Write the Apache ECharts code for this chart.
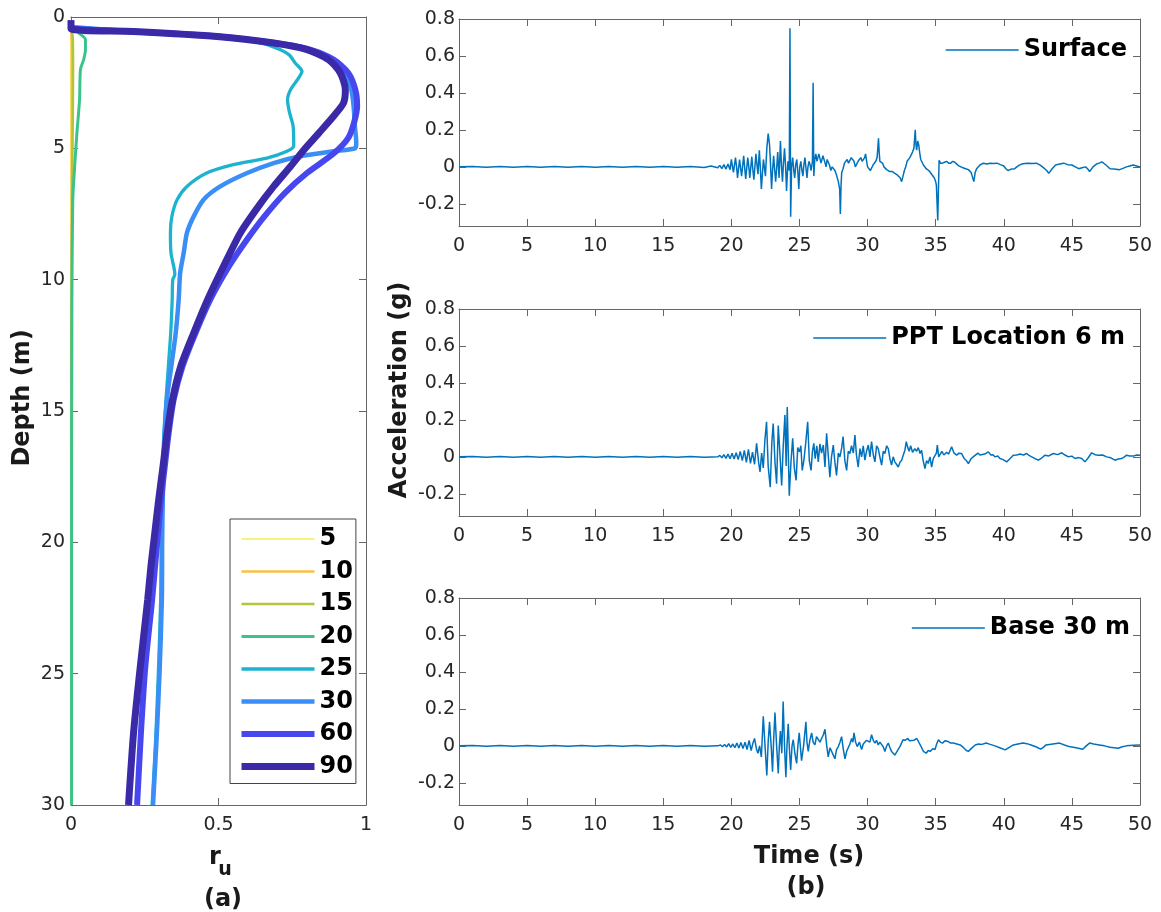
<!DOCTYPE html>
<html><head><meta charset="utf-8">
<script src="https://cdn.jsdelivr.net/npm/echarts@6/dist/echarts.min.js"></script>
<style>html,body{margin:0;padding:0;background:#fff}#c{width:1161px;height:912px}</style>
</head><body><div id="c"></div>
<script>
const FONT = 'DejaVu Sans';
// ---- tick labels ----
const depthTicks = [0, 5, 10, 15, 20, 25, 30];
const ruTicks = [0, 0.5, 1];
const timeTicks = [0, 5, 10, 15, 20, 25, 30, 35, 40, 45, 50];
const accTicks = [-0.2, 0, 0.2, 0.4, 0.6, 0.8];

// ---- panel (a): pore pressure ratio profiles [ru, depth] ----
const ruNames = ['5', '10', '15', '20', '25', '30', '60', '90'];
const ru5 = [[0, 0.35], [0.001, 10], [0.001, 30]];
const ru10 = [[0, 0.35], [0.003, 1], [0.002, 10], [0.001, 30]];
const ru15 = [[0, 0.35], [0.006, 0.8], [0.007, 2], [0.006, 4], [0.004, 6], [0.003, 9], [0.002, 15], [0.001, 30]];
const ru20 = [[0, 0.35], [0.026, 0.61], [0.049, 0.86], [0.049, 1.24], [0.043, 1.62], [0.032, 2.0], [0.029, 3.15], [0.02, 4.42], [0.011, 5.94], [0.006, 6.95], [0.003, 10.76], [0.002, 20], [0.002, 30]];
const ru25 = [[0, 0.38], [0.21, 0.55], [0.49, 0.75], [0.65, 1.0], [0.71, 1.25], [0.74, 1.45], [0.76, 1.75], [0.783, 2.07], [0.77, 2.35], [0.745, 2.75], [0.734, 3.15], [0.74, 3.6], [0.753, 4.16], [0.755, 4.9], [0.732, 5.11], [0.664, 5.37], [0.55, 5.62], [0.46, 5.94], [0.393, 6.45], [0.36, 6.95], [0.342, 7.59], [0.337, 8.22], [0.339, 8.98], [0.35, 9.6], [0.352, 9.8], [0.345, 10.0], [0.343, 10.76], [0.338, 12.03], [0.33, 13.3], [0.322, 14.57], [0.314, 16], [0.309, 18], [0.306, 20], [0.304, 22.18], [0.296, 25], [0.287, 27.5], [0.275, 30]];
const ru30 = [[0, 0.38], [0.21, 0.55], [0.5, 0.74], [0.69, 0.99], [0.8, 1.24], [0.88, 1.62], [0.928, 2.13], [0.95, 2.77], [0.958, 3.4], [0.962, 4.1], [0.967, 4.8], [0.964, 4.99], [0.89, 5.11], [0.777, 5.3], [0.687, 5.56], [0.597, 5.94], [0.506, 6.45], [0.45, 6.95], [0.416, 7.59], [0.393, 8.22], [0.382, 8.98], [0.37, 9.75], [0.365, 10.76], [0.355, 12.03], [0.34, 13.3], [0.325, 14.57], [0.318, 15.84], [0.314, 17.1], [0.311, 18.4], [0.309, 20], [0.308, 22.18], [0.3, 25], [0.29, 27.5], [0.278, 30]];
const ru60 = [[0, 0.12], [0, 0.4], [0.21, 0.55], [0.5, 0.74], [0.69, 0.99], [0.81, 1.24], [0.89, 1.62], [0.94, 2.13], [0.964, 2.77], [0.97, 3.4], [0.96, 4.0], [0.94, 4.6], [0.89, 5.2], [0.8, 5.94], [0.725, 6.7], [0.655, 7.6], [0.595, 8.5], [0.535, 9.5], [0.472, 10.76], [0.422, 12.03], [0.378, 13.3], [0.348, 14.57], [0.331, 15.84], [0.318, 17.1], [0.305, 18.4], [0.295, 19.65], [0.285, 20.9], [0.275, 22.18], [0.252, 24.72], [0.237, 27.26], [0.224, 30]];
const ru90 = [[0, 0.12], [0, 0.45], [0.212, 0.55], [0.495, 0.74], [0.687, 0.99], [0.8, 1.24], [0.873, 1.62], [0.913, 2.13], [0.93, 2.77], [0.924, 3.27], [0.89, 3.78], [0.84, 4.42], [0.79, 5.05], [0.744, 5.69], [0.687, 6.45], [0.636, 7.2], [0.574, 8.22], [0.517, 9.49], [0.463, 10.76], [0.416, 12.03], [0.372, 13.3], [0.344, 14.57], [0.326, 15.84], [0.312, 17.1], [0.297, 18.4], [0.284, 19.65], [0.271, 20.9], [0.26, 22.18], [0.235, 24.72], [0.212, 27.26], [0.195, 30]];
const ruSeriesData = [ru5, ru10, ru15, ru20, ru25, ru30, ru60, ru90];

// ---- panel (b): acceleration time histories [time s, acc g] ----
const surface = [[0,0],[1,0.002],[2,-0.002],[3,0.002],[4,-0.002],[5,0.002],[6,-0.002],[7,0.002],[8,-0.002],[9,0.002],[10,-0.002],[11,0.002],[12,-0.002],[13,0.002],[14,-0.002],[15,0.002],[16,-0.002],[17,0.002],[18,-0.003],[18.5,0.005],[19.0,-0.005],[19.15,0.008],[19.3,-0.01],[19.45,0.012],[19.6,-0.012],[19.75,0.015],[19.9,-0.015],[20.0,0.04],[20.1,-0.01],[20.15,-0.03],[20.3,0.05],[20.38,0.0],[20.45,-0.06],[20.6,0.04],[20.68,-0.01],[20.75,-0.05],[20.9,0.06],[20.97,0.0],[21.05,-0.065],[21.2,0.05],[21.28,0.0],[21.35,-0.06],[21.5,0.055],[21.58,-0.02],[21.65,-0.07],[21.8,0.07],[21.88,0.01],[21.95,-0.04],[22.05,0.09],[22.12,0.0],[22.2,-0.12],[22.35,0.04],[22.42,0.0],[22.5,-0.05],[22.6,0.1],[22.7,0.18],[22.8,0.12],[22.85,0.05],[22.95,-0.12],[23.02,-0.02],[23.1,0.06],[23.18,-0.02],[23.25,-0.08],[23.35,0.02],[23.4,0.08],[23.5,-0.06],[23.6,0.14],[23.68,0.0],[23.75,-0.08],[23.82,0.02],[23.9,0.1],[23.98,0.0],[24.05,-0.13],[24.15,0.03],[24.25,-0.02],[24.3,0.75],[24.35,-0.27],[24.42,0.0],[24.5,0.05],[24.58,-0.02],[24.65,-0.06],[24.72,0.01],[24.8,0.04],[24.88,-0.03],[24.95,-0.12],[25.02,0.0],[25.1,0.03],[25.18,-0.02],[25.25,-0.05],[25.32,0.01],[25.4,0.05],[25.48,-0.01],[25.55,-0.06],[25.62,0.0],[25.7,0.03],[25.78,0.01],[25.85,-0.02],[25.95,0.03],[26.0,0.455],[26.05,-0.05],[26.12,0.04],[26.2,0.07],[26.28,0.03],[26.35,0.02],[26.42,0.07],[26.5,0.06],[26.58,0.02],[26.65,0.01],[26.72,0.06],[26.8,0.055],[26.88,0.02],[26.95,0.0],[27.03,0.04],[27.1,0.03],[27.2,0.01],[27.3,-0.02],[27.4,0.0],[27.5,-0.01],[27.6,-0.02],[27.7,-0.04],[27.78,-0.03],[27.85,-0.08],[27.95,-0.12],[28.0,-0.255],[28.05,-0.1],[28.1,-0.03],[28.2,-0.01],[28.3,0.02],[28.4,0.01],[28.5,0.04],[28.6,0.02],[28.7,0.03],[28.8,0.05],[28.9,0.06],[29.0,0.03],[29.1,0.0],[29.2,0.01],[29.3,0.03],[29.4,0.02],[29.5,0.05],[29.6,0.03],[29.7,0.04],[29.78,0.05],[29.85,0.07],[29.93,0.03],[30.0,0.0],[30.1,-0.01],[30.2,-0.02],[30.3,-0.01],[30.4,0.01],[30.5,0.02],[30.6,0.03],[30.7,0.05],[30.8,0.155],[30.85,0.08],[30.9,0.03],[31.0,0.04],[31.1,0.02],[31.2,0.0],[31.3,-0.01],[31.4,-0.015],[31.5,-0.02],[31.6,-0.025],[31.7,-0.03],[31.8,-0.025],[31.9,-0.03],[32.0,-0.035],[32.1,-0.04],[32.2,-0.045],[32.3,-0.05],[32.4,-0.06],[32.5,-0.08],[32.6,-0.05],[32.7,-0.02],[32.8,0.0],[32.9,0.03],[33.0,0.04],[33.1,0.05],[33.2,0.06],[33.3,0.08],[33.4,0.1],[33.5,0.2],[33.55,0.12],[33.6,0.09],[33.68,0.14],[33.75,0.12],[33.82,0.08],[33.9,0.04],[34.0,0.03],[34.1,0.01],[34.2,0.0],[34.3,-0.01],[34.4,-0.015],[34.5,-0.02],[34.6,-0.03],[34.7,-0.04],[34.8,-0.05],[34.9,-0.06],[35.0,-0.08],[35.05,-0.1],[35.15,-0.29],[35.25,0.035],[35.35,0.02],[35.5,0.02],[35.65,0.025],[35.8,0.03],[35.95,0.02],[36.1,0.02],[36.25,0.03],[36.4,0.025],[36.55,0.015],[36.7,0.005],[36.85,0.0],[37.0,-0.005],[37.2,-0.01],[37.4,-0.015],[37.6,-0.03],[37.8,-0.08],[37.9,-0.03],[38.0,-0.01],[38.25,0.01],[38.5,0.02],[38.75,0.015],[39.0,0.02],[39.25,0.018],[39.5,0.02],[39.75,0.012],[40.0,0.005],[40.15,-0.01],[40.3,-0.02],[40.55,-0.012],[40.8,-0.01],[41.05,0.005],[41.3,0.015],[41.55,0.018],[41.8,0.02],[42.1,0.018],[42.4,0.02],[42.7,0.008],[43.0,-0.01],[43.15,-0.02],[43.3,-0.035],[43.55,-0.01],[43.8,0.01],[44.1,0.015],[44.4,0.02],[44.7,0.012],[45.0,0.01],[45.25,0.0],[45.5,-0.01],[45.75,-0.005],[46.0,0],[46.15,-0.01],[46.3,-0.025],[46.55,0.0],[46.8,0.015],[47.0,0.02],[47.2,0.027],[47.5,0.01],[47.8,-0.01],[48.1,-0.012],[48.5,-0.015],[48.75,-0.008],[49.0,0.0],[49.25,0.005],[49.5,0.01],[49.75,0.005],[50.0,0.0]];
const ppt6 = [[0,0],[1,0.002],[2,-0.002],[3,0.002],[4,-0.002],[5,0.002],[6,-0.002],[7,0.002],[8,-0.002],[9,0.002],[10,-0.002],[11,0.002],[12,-0.002],[13,0.002],[14,-0.002],[15,0.002],[16,-0.002],[17,0.002],[18,-0.002],[19.0,0],[19.15,0.008],[19.3,-0.005],[19.45,0.012],[19.6,-0.008],[19.75,0.015],[19.9,-0.01],[20.05,0.02],[20.2,-0.012],[20.35,0.022],[20.5,-0.015],[20.65,0.03],[20.8,-0.02],[20.95,0.035],[21.1,-0.03],[21.25,0.04],[21.4,-0.035],[21.55,0.025],[21.7,-0.04],[21.85,0.073],[22.0,-0.03],[22.1,-0.082],[22.22,0.02],[22.34,-0.06],[22.46,0.09],[22.58,0.19],[22.7,-0.05],[22.85,-0.164],[22.97,0.08],[23.07,0.18],[23.2,-0.03],[23.32,-0.145],[23.44,0.17],[23.56,0.02],[23.69,-0.155],[23.8,0.05],[23.93,0.227],[24.02,-0.05],[24.1,0.27],[24.25,-0.21],[24.38,-0.02],[24.5,0.1],[24.62,-0.06],[24.75,-0.127],[24.87,0.05],[25.0,0.027],[25.1,0.06],[25.2,-0.073],[25.32,-0.02],[25.45,0.07],[25.6,0.19],[25.72,-0.02],[25.85,-0.073],[25.95,0.03],[26.05,0.073],[26.15,-0.01],[26.27,0.06],[26.38,-0.027],[26.5,0.07],[26.62,0.02],[26.75,0.064],[26.87,-0.055],[26.99,0.127],[27.1,0.02],[27.23,-0.11],[27.35,0.0],[27.48,0.064],[27.6,-0.03],[27.72,-0.1],[27.85,0.02],[27.97,0.0],[28.1,0.05],[28.2,0.11],[28.33,-0.02],[28.46,-0.073],[28.58,0.03],[28.7,0.018],[28.82,0.06],[28.95,0.02],[29.07,0.118],[29.18,0.01],[29.31,-0.055],[29.44,0.045],[29.56,0.0],[29.68,0.06],[29.8,-0.018],[29.92,0.03],[30.05,0.064],[30.17,0.0],[30.29,0.082],[30.42,0.01],[30.54,-0.027],[30.66,0.06],[30.78,0.045],[30.9,0.0],[31.03,-0.045],[31.15,0.03],[31.27,0.018],[31.4,0.06],[31.52,0.045],[31.64,-0.01],[31.76,-0.045],[31.88,0.0],[32.0,-0.027],[32.12,-0.04],[32.25,-0.055],[32.37,-0.03],[32.5,-0.018],[32.62,0.01],[32.74,0.036],[32.84,0.082],[32.95,0.05],[33.05,0.03],[33.16,0.06],[33.3,0.025],[33.47,0.045],[33.6,0.03],[33.72,0.05],[33.85,0.018],[33.96,0.036],[34.08,-0.02],[34.21,-0.064],[34.33,-0.02],[34.45,-0.036],[34.58,0.0],[34.7,-0.055],[34.82,-0.01],[34.94,-0.018],[35.05,0.02],[35.12,0.064],[35.22,0.0],[35.31,0.01],[35.45,0.03],[35.6,0.01],[35.8,0.025],[35.95,0.015],[36.17,0.055],[36.35,0.02],[36.54,0.009],[36.7,0.02],[36.9,0.018],[37.1,-0.01],[37.25,-0.02],[37.4,-0.036],[37.6,-0.01],[37.75,0.0],[37.89,0.009],[38.1,0.02],[38.25,0.01],[38.37,0.018],[38.6,0.015],[38.86,0.027],[39.05,0.01],[39.2,0.012],[39.35,0.0],[39.55,0.005],[39.72,-0.009],[39.95,-0.015],[40.21,-0.027],[40.45,-0.01],[40.7,0.009],[40.95,0.01],[41.19,0.015],[41.45,0.01],[41.68,0.018],[41.85,0.008],[42.05,0.0],[42.3,-0.01],[42.54,-0.018],[42.8,-0.005],[43.03,0.009],[43.3,0.005],[43.64,0.018],[43.95,0.012],[44.25,0.022],[44.5,0.01],[44.74,0.0],[45.0,0.004],[45.23,-0.009],[45.5,-0.004],[45.72,-0.009],[45.96,-0.027],[46.2,-0.005],[46.45,0.022],[46.7,0.012],[46.94,0.009],[47.25,0.01],[47.55,0],[47.85,-0.005],[48.16,-0.018],[48.4,-0.012],[48.65,-0.009],[48.85,0.0],[49.02,0.009],[49.25,0.005],[49.51,0.004],[49.75,0.01],[50,0.009]];
const base30 = [[0,0],[1,0.002],[2,-0.002],[3,0.002],[4,-0.002],[5,0.002],[6,-0.002],[7,0.002],[8,-0.002],[9,0.002],[10,-0.002],[11,0.002],[12,-0.002],[13,0.002],[14,-0.002],[15,0.002],[16,-0.002],[17,0.002],[18,-0.002],[19.0,0],[19.2,0.005],[19.35,-0.005],[19.5,0.008],[19.65,-0.006],[19.8,0.012],[19.95,-0.008],[20.1,0.01],[20.25,-0.01],[20.4,0.015],[20.55,-0.012],[20.7,0.018],[20.85,-0.015],[21.0,0.02],[21.15,-0.02],[21.3,0.03],[21.45,-0.025],[21.6,0.02],[21.7,0.04],[21.85,-0.02],[21.95,-0.04],[22.07,0.0],[22.2,-0.06],[22.34,0.16],[22.47,0.0],[22.6,-0.16],[22.7,0.02],[22.8,0.13],[22.92,0.0],[23.02,-0.14],[23.1,0.03],[23.2,0.18],[23.32,0.0],[23.44,-0.15],[23.52,0.0],[23.6,0.08],[23.7,-0.04],[23.8,0.24],[23.9,0.0],[24.0,-0.17],[24.08,0.0],[24.17,0.12],[24.26,-0.02],[24.35,-0.13],[24.45,0.0],[24.54,0.033],[24.66,-0.04],[24.79,-0.095],[24.88,0.0],[24.98,0.07],[25.06,0.0],[25.15,-0.08],[25.3,0.0],[25.47,0.13],[25.55,0.02],[25.64,-0.03],[25.76,0.03],[25.89,0.07],[26.0,0.02],[26.13,0.005],[26.25,0.05],[26.38,0.06],[26.5,0.02],[26.62,0.015],[26.75,0.06],[26.87,0.09],[27.0,0.0],[27.11,-0.06],[27.24,-0.01],[27.36,-0.02],[27.48,-0.05],[27.6,-0.07],[27.72,-0.02],[27.85,-0.004],[27.97,0.02],[28.09,0.05],[28.22,-0.02],[28.34,-0.07],[28.46,-0.03],[28.58,-0.02],[28.7,0.01],[28.83,0.04],[28.92,0.02],[29.0,0.07],[29.12,0.02],[29.24,-0.004],[29.4,0.02],[29.56,-0.02],[29.68,0.01],[29.8,0.005],[29.92,0.03],[30.05,0.033],[30.17,0.02],[30.29,0.06],[30.42,0.03],[30.54,0.015],[30.66,0.03],[30.78,0.005],[30.9,0.02],[31.03,0.024],[31.15,-0.005],[31.27,-0.03],[31.4,0.0],[31.52,0.015],[31.64,-0.01],[31.76,-0.03],[31.88,-0.02],[32.0,-0.05],[32.12,-0.035],[32.25,-0.03],[32.4,0.0],[32.6,0.033],[32.75,0.03],[32.95,0.04],[33.07,0.028],[33.2,0.033],[33.4,0.03],[33.6,0.04],[33.72,0.025],[33.85,0.02],[33.97,-0.01],[34.1,-0.03],[34.2,-0.025],[34.3,-0.04],[34.45,-0.025],[34.6,-0.03],[34.78,-0.015],[34.95,-0.02],[35.07,0.01],[35.2,0.033],[35.35,0.02],[35.5,0.015],[35.7,0.028],[35.9,0.024],[36.1,0.015],[36.3,0.015],[36.55,0.01],[36.8,0.005],[37.05,-0.01],[37.25,-0.025],[37.4,-0.03],[37.6,-0.015],[37.9,0.005],[38.15,0.01],[38.4,0.008],[38.7,0.015],[39.0,0.008],[39.35,0],[39.7,-0.01],[40.1,-0.022],[40.4,-0.008],[40.7,0.005],[41.05,0.01],[41.4,0.015],[41.7,0.012],[42.0,0.005],[42.35,-0.005],[42.7,-0.018],[42.9,-0.008],[43.1,0.005],[43.6,0.01],[44.1,0.015],[44.45,0.005],[44.8,-0.004],[45.3,-0.01],[45.8,-0.018],[46.05,0.0],[46.3,0.015],[46.6,0.01],[47.0,0.005],[47.4,0.0],[47.8,-0.007],[48.1,-0.01],[48.4,-0.013],[48.7,-0.005],[49.0,0],[49.5,0.003],[50,0.004]];
const accNames = ['Surface', 'PPT Location 6 m', 'Base 30 m'];
const accSeriesData = [surface, ppt6, base30];

// ---- styles ----
const ruColors = ['#f9f27c', '#fbbf45', '#b3c33a', '#3cc38a', '#1db3cf', '#3a8ef5', '#4747f0', '#3a2aa8'];
const ruWidths = [2, 2.5, 2.5, 3, 3.3, 4.5, 6, 7];
const accColor = '#0072BD';
const axisColor = '#666';
const labelColor = '#262626';

const grids = [
  { left: 71, top: 17, width: 295, height: 788 },
  { left: 459, top: 19, width: 681, height: 207 },
  { left: 459, top: 309, width: 681, height: 207 },
  { left: 459, top: 598, width: 681, height: 207 }
];

function baseAxis(gi, pos, showLabel, margin) {
  return {
    type: 'value', gridIndex: gi, position: pos,
    axisLine: { show: true, onZero: false, lineStyle: { color: axisColor, width: 1 } },
    axisTick: { show: true, inside: true, length: 7, lineStyle: { color: axisColor, width: 1 } },
    splitLine: { show: false },
    axisLabel: { show: showLabel, color: labelColor, fontSize: 19, fontFamily: FONT, margin: margin }
  };
}
const xAxes = [], yAxes = [];
// left panel
xAxes.push(Object.assign(baseAxis(0, 'bottom', true, 11), { min: 0, max: 1, interval: 0.5 }));
xAxes.push(Object.assign(baseAxis(0, 'top', false, 0), { min: 0, max: 1, interval: 0.5 }));
yAxes.push(Object.assign(baseAxis(0, 'left', true, 6), { min: 0, max: 30, interval: 5, inverse: true }));
yAxes.push(Object.assign(baseAxis(0, 'right', false, 0), { min: 0, max: 30, interval: 5, inverse: true }));
// right panels
for (let g = 1; g <= 3; g++) {
  xAxes.push(Object.assign(baseAxis(g, 'bottom', true, 11), { min: 0, max: 50, interval: 5 }));
  xAxes.push(Object.assign(baseAxis(g, 'top', false, 0), { min: 0, max: 50, interval: 5 }));
  const yl = baseAxis(g, 'left', true, 4);
  yl.min = -0.32; yl.max = 0.8;
  yl.axisTick.customValues = accTicks;
  yl.axisLabel.customValues = accTicks;
  yl.axisLabel.formatter = v => String(Math.round(v * 10) / 10);
  yAxes.push(yl);
  const yr = baseAxis(g, 'right', false, 0);
  yr.min = -0.32; yr.max = 0.8;
  yr.axisTick.customValues = accTicks;
  yr.axisLabel.customValues = accTicks;
  yAxes.push(yr);
}

const series = [];
ruNames.forEach((n, i) => {
  series.push({
    name: n, type: 'line', xAxisIndex: 0, yAxisIndex: 0,
    data: ruSeriesData[i], symbol: 'none', showSymbol: false, smooth: 0.25,
    lineStyle: { color: ruColors[i], width: ruWidths[i] },
    itemStyle: { color: ruColors[i] }
  });
});
accNames.forEach((n, i) => {
  series.push({
    name: n, type: 'line', xAxisIndex: 2 * (i + 1), yAxisIndex: 2 * (i + 1),
    data: accSeriesData[i], symbol: 'none', showSymbol: false,
    lineStyle: { color: accColor, width: 1.5 },
    itemStyle: { color: accColor }
  });
});

const legTxt = { color: '#000', fontWeight: 'bold', fontSize: 24, fontFamily: FONT, lineHeight: 24 };
const legItem = { opacity: 0, borderWidth: 0 };
const legLine = { width: 'inherit' };
const legends = [
  { data: ruNames, orient: 'vertical', left: 230, top: 519, itemWidth: 73, itemHeight: 14, itemGap: 8.5,
    padding: [8, 3, 5, 8], borderColor: '#444', borderWidth: 1, backgroundColor: '#fff',
    selectedMode: false, textStyle: legTxt, itemStyle: legItem, lineStyle: legLine },
  { data: ['Surface'], right: 34, top: 38, itemWidth: 73, itemHeight: 14, padding: 0, selectedMode: false, textStyle: legTxt, itemStyle: legItem, lineStyle: legLine },
  { data: ['PPT Location 6 m'], right: 36, top: 326, itemWidth: 73, itemHeight: 14, padding: 0, selectedMode: false, textStyle: legTxt, itemStyle: legItem, lineStyle: legLine },
  { data: ['Base 30 m'], right: 31, top: 616, itemWidth: 73, itemHeight: 14, padding: 0, selectedMode: false, textStyle: legTxt, itemStyle: legItem, lineStyle: legLine }
];

function txt(x, y, s, size, rot) {
  return { type: 'text', x: x, y: y, rotation: rot || 0,
    style: { text: s, fill: '#1a1a1a', font: 'bold ' + size + 'px "' + FONT + '"', textAlign: 'center', textVerticalAlign: 'middle' } };
}
const graphics = [
  txt(23, 398, 'Depth (m)', 24, Math.PI / 2),
  txt(400, 390, 'Acceleration (g)', 24, Math.PI / 2),
  txt(809, 857, 'Time (s)', 24),
  txt(806, 888, '(b)', 24),
  txt(215, 858, 'r', 24),
  txt(225, 870, 'u', 19),
  txt(223, 900, '(a)', 24)
];

const chart = echarts.init(document.getElementById('c'), null, { renderer: 'canvas' });
chart.setOption({
  animation: false,
  backgroundColor: '#fff',
  textStyle: { fontFamily: FONT },
  grid: grids,
  xAxis: xAxes,
  yAxis: yAxes,
  legend: legends,
  series: series,
  graphic: graphics
});
</script></body></html>
